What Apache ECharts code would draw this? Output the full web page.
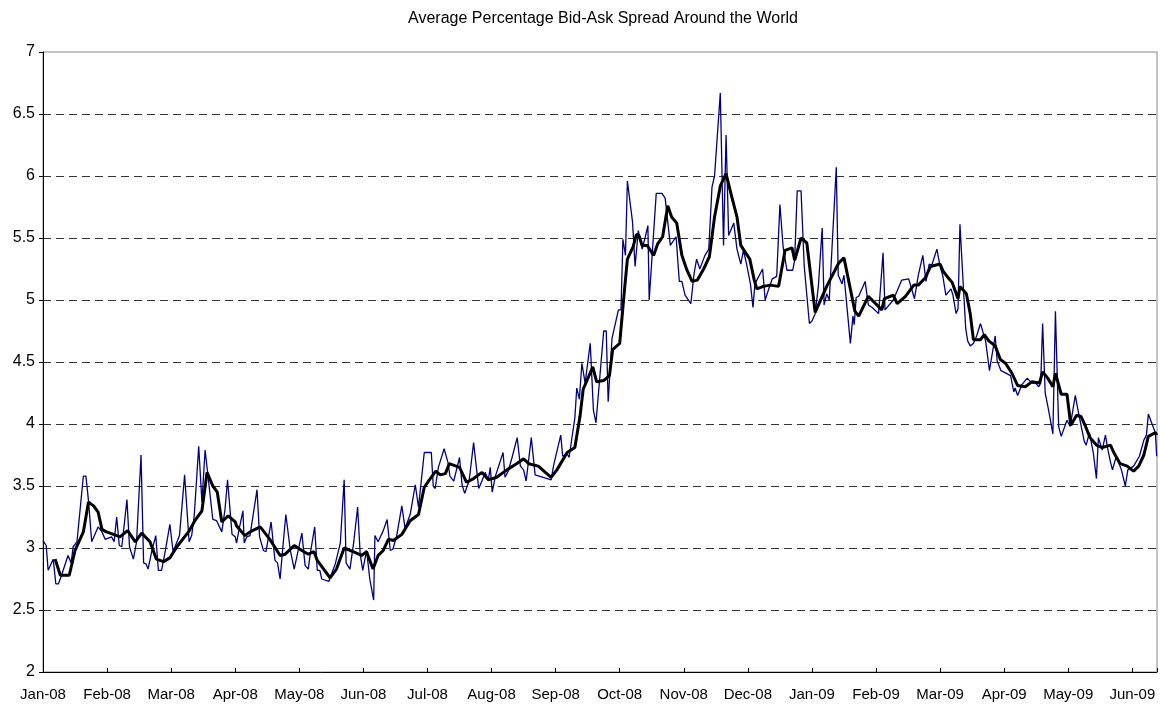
<!DOCTYPE html>
<html lang="en">

<head>
    <meta charset="UTF-8">
    <title>Average Percentage Bid-Ask Spread Around the World</title>
    <script src="https://cdn.jsdelivr.net/npm/echarts@6/dist/echarts.min.js"></script>
    <style>
        html, body { margin: 0; padding: 0; background: #fff; }
    </style>
</head>

<body>
    <div id="chart" style="width: 1161px; height: 707px;"></div>
</body>

<script>
    // x = months since start of Jan 2008, y = spread in percent
    const monthLabels = ['Jan-08', 'Feb-08', 'Mar-08', 'Apr-08', 'May-08', 'Jun-08', 'Jul-08', 'Aug-08', 'Sep-08',
        'Oct-08', 'Nov-08', 'Dec-08', 'Jan-09', 'Feb-09', 'Mar-09', 'Apr-09', 'May-09', 'Jun-09'];

    const dailySpread = [
        [0.00, 3.06], [0.05, 3.02], [0.08, 2.82], [0.16, 2.91], [0.20, 2.71], [0.24, 2.71], [0.29, 2.78], [0.39, 2.94],
        [0.44, 2.88], [0.47, 3.01], [0.53, 3.05], [0.63, 3.58], [0.67, 3.58], [0.71, 3.38], [0.76, 3.05], [0.86, 3.17],
        [0.92, 3.13], [0.97, 3.07], [1.07, 3.09], [1.11, 3.05], [1.15, 3.25], [1.19, 3.02], [1.23, 3.01], [1.31, 3.39],
        [1.35, 3.01], [1.41, 2.91], [1.46, 3.05], [1.53, 3.75], [1.57, 2.88], [1.61, 2.87], [1.64, 2.83], [1.70, 2.98],
        [1.76, 3.10], [1.80, 2.82], [1.85, 2.82], [1.90, 2.95], [1.98, 3.19], [2.03, 2.97], [2.13, 3.10], [2.21, 3.59],
        [2.28, 3.05], [2.32, 3.10], [2.36, 3.26], [2.43, 3.82], [2.48, 3.37], [2.53, 3.79], [2.56, 3.79], [2.65, 3.23],
        [2.71, 3.22], [2.79, 3.13], [2.84, 3.31], [2.88, 3.55], [2.95, 3.11], [3.00, 3.09], [3.02, 3.04], [3.06, 3.15],
        [3.12, 3.30], [3.14, 3.04], [3.18, 3.09], [3.23, 3.10], [3.34, 3.47], [3.38, 3.09], [3.44, 2.98], [3.48, 2.97],
        [3.56, 3.21], [3.62, 2.90], [3.66, 2.88], [3.70, 2.75], [3.74, 2.99], [3.79, 3.27], [3.86, 2.98], [3.92, 2.83],
        [4.04, 3.12], [4.09, 2.86], [4.14, 2.83], [4.17, 2.95], [4.24, 3.17], [4.28, 2.82], [4.32, 2.82], [4.35, 2.75],
        [4.46, 2.73], [4.51, 2.80], [4.56, 2.87], [4.58, 2.86], [4.64, 3.04], [4.70, 3.55], [4.73, 2.88], [4.79, 2.83],
        [4.85, 3.05], [4.91, 3.33], [4.95, 2.95], [4.99, 2.82], [5.05, 2.98], [5.10, 2.75], [5.16, 2.58], [5.18, 3.10],
        [5.23, 3.05], [5.31, 3.14], [5.37, 3.23], [5.42, 2.98], [5.46, 2.99], [5.52, 3.10], [5.60, 3.34], [5.65, 3.16],
        [5.73, 3.27], [5.81, 3.51], [5.86, 3.33], [5.95, 3.77], [6.06, 3.77], [6.09, 3.50], [6.12, 3.48], [6.17, 3.65],
        [6.26, 3.80], [6.32, 3.69], [6.35, 3.58], [6.41, 3.54], [6.50, 3.73], [6.54, 3.51], [6.58, 3.44], [6.60, 3.44],
        [6.65, 3.54], [6.72, 3.85], [6.80, 3.48], [6.85, 3.54], [6.90, 3.61], [6.95, 3.55], [6.98, 3.65], [7.01, 3.45],
        [7.06, 3.58], [7.18, 3.77], [7.21, 3.57], [7.26, 3.62], [7.32, 3.73], [7.40, 3.89], [7.45, 3.66], [7.50, 3.63],
        [7.54, 3.54], [7.62, 3.89], [7.68, 3.59], [7.70, 3.58], [7.93, 3.55], [7.97, 3.67], [8.08, 3.91], [8.11, 3.74],
        [8.18, 3.76], [8.21, 3.73], [8.30, 4.05], [8.33, 4.29], [8.37, 4.20], [8.41, 4.49], [8.46, 4.33], [8.54, 4.65],
        [8.57, 4.64], [8.59, 4.11], [8.63, 4.01], [8.75, 4.75], [8.79, 4.75], [8.82, 4.18], [8.88, 4.69], [8.98, 4.92],
        [9.02, 4.92], [9.05, 5.49], [9.09, 5.36], [9.12, 5.96], [9.20, 5.63], [9.24, 5.27], [9.29, 5.56], [9.35, 5.41],
        [9.40, 5.51], [9.44, 5.60], [9.46, 5.00], [9.57, 5.86], [9.66, 5.86], [9.71, 5.82], [9.79, 5.44], [9.88, 5.51],
        [9.93, 5.15], [9.97, 5.15], [10.02, 5.04], [10.11, 4.97], [10.16, 5.21], [10.20, 5.33], [10.25, 5.25], [10.33, 5.36],
        [10.39, 5.41], [10.44, 5.91], [10.48, 6.00], [10.57, 6.67], [10.62, 5.44], [10.66, 6.33], [10.70, 5.52], [10.78, 5.62],
        [10.83, 5.41], [10.89, 5.29], [10.93, 5.40], [10.98, 5.29], [11.04, 5.13], [11.08, 4.94], [11.11, 5.13], [11.23, 5.25],
        [11.27, 5.00], [11.32, 5.08], [11.38, 5.17], [11.45, 5.19], [11.50, 5.77], [11.55, 5.43], [11.58, 5.43], [11.61, 5.24],
        [11.70, 5.24], [11.73, 5.32], [11.77, 5.88], [11.83, 5.88], [11.88, 5.27], [11.96, 4.81], [12.00, 4.83], [12.05, 4.89],
        [12.10, 5.11], [12.16, 5.58], [12.19, 4.96], [12.23, 5.05], [12.27, 5.00], [12.38, 6.07], [12.41, 5.20], [12.47, 5.13],
        [12.50, 5.20], [12.60, 4.65], [12.64, 4.87], [12.66, 4.80], [12.69, 5.02], [12.73, 5.03], [12.83, 5.15], [12.88, 4.96],
        [12.94, 4.94], [13.04, 4.89], [13.11, 5.38], [13.14, 4.92], [13.27, 5.00], [13.40, 5.16], [13.51, 5.17], [13.60, 5.01],
        [13.66, 5.20], [13.73, 5.36], [13.78, 5.15], [13.83, 5.29], [13.87, 5.28], [13.95, 5.41], [14.00, 5.27], [14.04, 5.20],
        [14.09, 5.04], [14.17, 5.09], [14.20, 5.04], [14.25, 4.89], [14.28, 4.93], [14.31, 5.61], [14.37, 5.04], [14.40, 4.77],
        [14.43, 4.67], [14.47, 4.63], [14.52, 4.65], [14.57, 4.71], [14.63, 4.81], [14.71, 4.67], [14.77, 4.43], [14.86, 4.71],
        [14.89, 4.51], [14.95, 4.43], [15.10, 4.39], [15.15, 4.26], [15.17, 4.29], [15.21, 4.23], [15.28, 4.32], [15.36, 4.37],
        [15.43, 4.33], [15.49, 4.33], [15.54, 4.30], [15.57, 4.33], [15.60, 4.81], [15.64, 4.25], [15.69, 4.12], [15.76, 3.92],
        [15.80, 4.91], [15.85, 3.98], [15.89, 3.90], [15.98, 4.03], [16.03, 3.98], [16.11, 4.23], [16.16, 4.09], [16.25, 3.86],
        [16.28, 3.83], [16.33, 3.93], [16.39, 3.77], [16.44, 3.56], [16.47, 3.89], [16.53, 3.79], [16.58, 3.91], [16.62, 3.79],
        [16.66, 3.69], [16.69, 3.63], [16.75, 3.74], [16.83, 3.63], [16.89, 3.50], [16.93, 3.63], [17.02, 3.66], [17.11, 3.74],
        [17.18, 3.87], [17.22, 3.91], [17.25, 4.08], [17.33, 3.97], [17.36, 3.93], [17.38, 3.74]
    ];

    // smoothed line (thick black)
    const movingAvg = [
        [0.19, 2.91], [0.27, 2.78], [0.41, 2.78], [0.50, 2.98], [0.63, 3.13], [0.71, 3.37], [0.79, 3.34], [0.86, 3.29],
        [0.92, 3.15], [0.99, 3.13], [1.10, 3.11], [1.20, 3.09], [1.32, 3.14], [1.44, 3.05], [1.54, 3.12], [1.67, 3.05],
        [1.77, 2.91], [1.88, 2.89], [1.98, 2.92], [2.09, 3.01], [2.27, 3.13], [2.37, 3.22], [2.48, 3.30], [2.56, 3.61],
        [2.65, 3.50], [2.72, 3.45], [2.79, 3.21], [2.89, 3.26], [3.00, 3.21], [3.02, 3.18], [3.15, 3.10], [3.23, 3.13],
        [3.39, 3.17], [3.54, 3.07], [3.70, 2.94], [3.78, 2.95], [3.92, 3.02], [4.04, 2.98], [4.14, 2.95], [4.23, 2.97],
        [4.28, 2.90], [4.38, 2.83], [4.48, 2.76], [4.58, 2.83], [4.70, 3.00], [4.84, 2.97], [4.97, 2.94], [5.05, 2.97],
        [5.15, 2.83], [5.23, 2.94], [5.31, 2.98], [5.39, 3.07], [5.47, 3.06], [5.60, 3.11], [5.73, 3.22], [5.86, 3.27],
        [5.95, 3.49], [6.03, 3.55], [6.13, 3.62], [6.20, 3.59], [6.28, 3.60], [6.34, 3.68], [6.50, 3.65], [6.61, 3.53],
        [6.72, 3.56], [6.85, 3.61], [6.95, 3.55], [7.08, 3.57], [7.24, 3.63], [7.39, 3.68], [7.50, 3.72], [7.58, 3.68],
        [7.73, 3.66], [7.84, 3.61], [7.93, 3.57], [8.02, 3.63], [8.18, 3.77], [8.30, 3.81], [8.38, 4.06], [8.43, 4.28],
        [8.58, 4.46], [8.64, 4.34], [8.75, 4.35], [8.84, 4.39], [8.89, 4.60], [9.00, 4.65], [9.06, 5.00], [9.12, 5.33],
        [9.21, 5.43], [9.26, 5.53], [9.30, 5.52], [9.35, 5.44], [9.43, 5.44], [9.53, 5.36], [9.59, 5.45], [9.67, 5.51],
        [9.75, 5.76], [9.81, 5.67], [9.89, 5.62], [9.97, 5.36], [10.05, 5.24], [10.13, 5.15], [10.21, 5.16], [10.31, 5.25],
        [10.40, 5.35], [10.48, 5.67], [10.57, 5.92], [10.66, 6.02], [10.74, 5.85], [10.83, 5.67], [10.89, 5.44], [11.03, 5.33],
        [11.10, 5.16], [11.14, 5.09], [11.24, 5.11], [11.35, 5.12], [11.48, 5.11], [11.58, 5.40], [11.69, 5.42], [11.73, 5.32],
        [11.83, 5.50], [11.92, 5.46], [12.05, 4.90], [12.23, 5.11], [12.42, 5.30], [12.50, 5.34], [12.67, 4.91], [12.73, 4.87],
        [12.88, 5.03], [13.09, 4.92], [13.13, 5.01], [13.27, 5.04], [13.33, 4.97], [13.46, 5.03], [13.59, 5.12], [13.66, 5.12],
        [13.77, 5.18], [13.85, 5.27], [14.00, 5.29], [14.05, 5.23], [14.11, 5.19], [14.19, 5.14], [14.28, 5.01], [14.31, 5.11],
        [14.41, 5.05], [14.47, 4.89], [14.52, 4.68], [14.63, 4.68], [14.69, 4.72], [14.76, 4.67], [14.86, 4.63], [14.94, 4.52],
        [15.02, 4.49], [15.12, 4.41], [15.21, 4.31], [15.33, 4.30], [15.43, 4.34], [15.55, 4.33], [15.60, 4.42], [15.68, 4.37],
        [15.76, 4.30], [15.80, 4.41], [15.89, 4.24], [15.98, 4.24], [16.04, 3.99], [16.13, 4.07], [16.20, 4.06], [16.27, 3.98],
        [16.34, 3.89], [16.44, 3.83], [16.53, 3.81], [16.66, 3.83], [16.71, 3.77], [16.81, 3.68], [16.92, 3.66], [17.02, 3.62],
        [17.10, 3.66], [17.18, 3.75], [17.25, 3.90], [17.36, 3.93], [17.38, 3.91]
    ];

    const lastMonth = 17.385;   // right edge, about mid June 2009

    var myChart = echarts.init(document.getElementById('chart'));

    myChart.setOption({
        animation: false,
        title: {
            text: 'Average Percentage Bid-Ask Spread Around the World',
            left: 598,
            textAlign: 'center',
            top: 6,
            textStyle: {
                fontFamily: 'Liberation Sans',
                fontSize: 16,
                fontWeight: 'normal',
                color: '#000'
            }
        },
        grid: {
            left: 43,
            right: 4,
            top: 52,
            bottom: 35,
            show: true,
            borderColor: '#888',
            borderWidth: 1,
            outerBoundsMode: 'none'
        },
        xAxis: {
            type: 'value',
            min: 0,
            max: lastMonth,
            interval: 1,
            axisLine: { lineStyle: { color: '#000', width: 1 } },
            axisTick: { inside: true, length: 4, lineStyle: { color: '#000' } },
            axisLabel: {
                fontFamily: 'Liberation Sans',
                fontSize: 15,
                color: '#000',
                margin: 15,
                formatter: v => Number.isInteger(v) ? monthLabels[v] : ''
            },
            splitLine: { show: false }
        },
        yAxis: {
            type: 'value',
            min: 2,
            max: 7,
            interval: 0.5,
            axisLine: { show: true, lineStyle: { color: '#000', width: 1 } },
            axisTick: { show: true, length: 4, lineStyle: { color: '#000' } },
            axisLabel: {
                fontFamily: 'Liberation Sans',
                fontSize: 16,
                color: '#000',
                margin: 8
            },
            splitLine: {
                showMinLine: false,
                showMaxLine: false,
                lineStyle: { type: [8, 5], color: '#333', width: 1 }
            }
        },
        series: [
            {
                name: 'Daily',
                type: 'line',
                data: dailySpread,
                symbol: 'none',
                lineStyle: { color: '#000080', width: 1.3 },
                z: 2
            },
            {
                name: 'Average',
                type: 'line',
                data: movingAvg,
                symbol: 'none',
                lineStyle: { color: '#000', width: 3 },
                z: 3
            }
        ]
    });
</script>

</html>
